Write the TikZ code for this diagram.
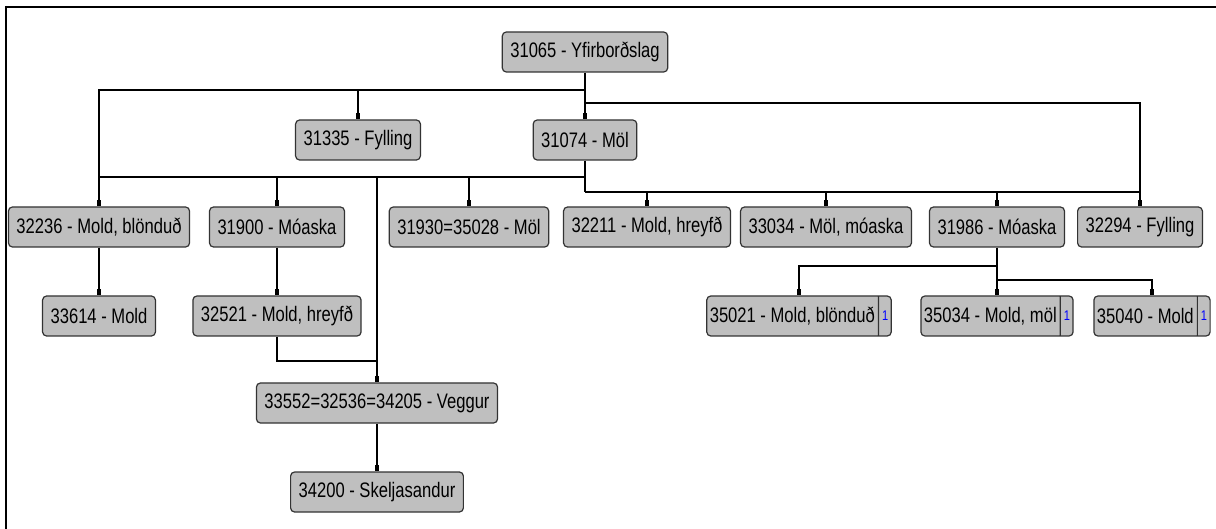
\documentclass[tikz,border=0pt]{standalone}
\usepackage{fontspec}
\setmainfont[FakeStretch=0.79]{Liberation Sans}
\usetikzlibrary{arrows.meta,shapes.multipart}

\tikzset{
  unit/.style={draw=black!80, fill=black!25, rounded corners=4pt, line width=1.2pt,
    minimum height=40pt, inner xsep=8pt, font=\fontsize{21}{25}\selectfont},
  unitn/.style={unit, inner xsep=3pt, rectangle split, rectangle split horizontal,
    rectangle split parts=2, rectangle split draw splits=true},
  link/.style={line width=1.3pt},
  tip/.style={link, -{Rectangle[length=6pt,width=4.5pt]}}
}
\newcommand{\cnt}{\nodepart{two}{\color{blue}\fontsize{14}{14}\selectfont 1}}

\begin{document}
\begin{tikzpicture}[x=1pt,y=-1pt]
    \useasboundingbox (0,0) rectangle (1216,529);
    \draw[line width=2.5pt] (6,7) -- (1216,7);
    \draw[line width=2pt] (6,6) -- (6,529);

    \node[unit] at (585,52) (root) {31065 - Yfirborðslag};
    \node[unit] at (358,140) (fyl) {31335 - Fylling};
    \node[unit] at (585,140) (mol) {31074 - Möl};

    \node[unit] at (99,227) (blo) {32236 - Mold, blönduð};
    \node[unit] at (277,227) (moa) {31900 - Móaska};
    \node[unit] at (469,227) (molb) {31930=35028 - Möl};
    \node[unit] at (647,227) (hre) {32211 - Mold, hreyfð};
    \node[unit] at (826,227) (mmo) {33034 - Möl, móaska};
    \node[unit] at (997,227) (moab) {31986 - Móaska};
    \node[unit] at (1140,227) (fylb) {32294 - Fylling};

    \node[unit] at (99,316) (mld) {33614 - Mold};
    \node[unit] at (277,316) (hreb) {32521 - Mold, hreyfð};
    \node[unitn] at (799,316) (blob) {35021 - Mold, blönduð \cnt};
    \node[unitn] at (997,316) (mmob) {35034 - Mold, möl \cnt};
    \node[unitn] at (1152,316) (mldb) {35040 - Mold \cnt};

    \node[unit] at (377,403) (veg) {33552=32536=34205 - Veggur};
    \node[unit] at (377,492) (ske) {34200 - Skeljasandur};

    % junctions on the bus lines
    \coordinate (jr) at (585,90);
    \coordinate (jrb) at (585,103);
    \coordinate (jm) at (585,177);
    \coordinate (jmb) at (585,192);
    \coordinate (jh) at (377,361);
    \coordinate (jn) at (997,266);
    \coordinate (jnb) at (997,280);

    \draw[tip] (root.south) -- (mol.north);
    \draw[tip] (jr) -| (blo.north);
    \draw[tip] (jr) -| (fyl.north);
    \draw[tip] (jrb) -| (fylb.north);

    \draw[link] (mol.south) -- (jmb);
    \draw[link] (jm) -| (blo.north);
    \draw[tip] (jm) -| (moa.north);
    \draw[tip] (jm) -| (molb.north);
    \draw[tip] (jm) -| (veg.north);
    \draw[tip] (jmb) -| (hre.north);
    \draw[tip] (jmb) -| (mmo.north);
    \draw[tip] (jmb) -| (moab.north);
    \draw[tip] (jmb) -| (fylb.north);

    \draw[tip] (blo.south) -- (mld.north);
    \draw[tip] (moa.south) -- (hreb.north);
    \draw[link] (hreb.south) |- (jh);
    \draw[tip] (veg.south) -- (ske.north);

    \draw[link] (moab.south) -- (jnb);
    \draw[tip] (jn) -| (blob.north);
    \draw[tip] (jnb) -- (mmob.north);
    \draw[tip] (jnb) -| (mldb.north);
\end{tikzpicture}
\end{document}
